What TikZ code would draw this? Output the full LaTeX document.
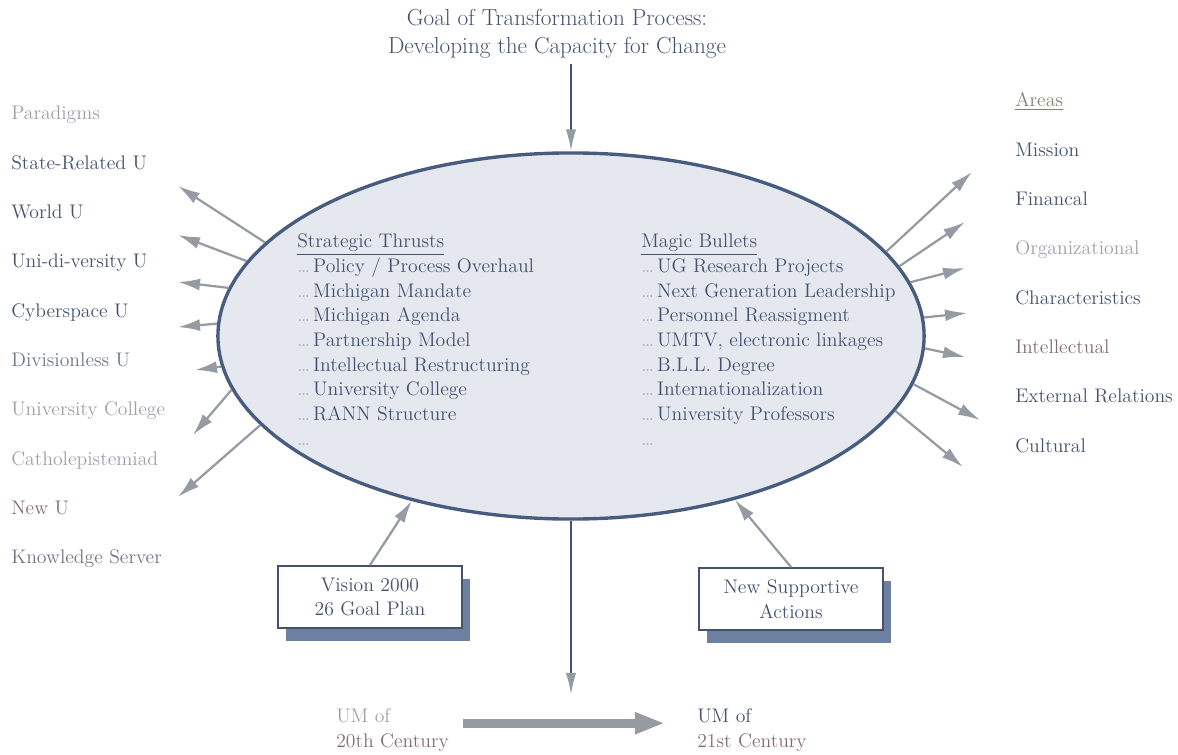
\documentclass[tikz,border=0pt]{standalone}
\usepackage{tikz}
\usetikzlibrary{shapes.geometric,arrows.meta,shadows}
\definecolor{ink}{RGB}{68,82,112}
\definecolor{faint}{RGB}{158,160,168}
\definecolor{mute}{RGB}{112,118,134}
\definecolor{rose}{RGB}{132,108,122}
\definecolor{areasc}{RGB}{122,134,112}
\definecolor{dotgray}{RGB}{170,175,185}
\definecolor{arrgray}{RGB}{150,155,163}
\definecolor{ellfill}{RGB}{229,233,239}
\definecolor{ellline}{RGB}{72,92,128}
\definecolor{boxshade}{RGB}{110,128,160}
\begin{document}
\begin{tikzpicture}[x=0.025cm,y=-0.025cm,
    lbl/.style={anchor=base west,inner sep=0pt,font=\fontsize{14}{17.5}\selectfont},
    item/.style={anchor=base west,inner sep=0pt,text=ink,font=\fontsize{14}{17.5}\selectfont},
    spoke/.style={draw=arrgray,line width=1.6pt,-{Latex[length=5.5mm,width=3mm]}},
    feed/.style={draw=ink,line width=1.6pt,-{Latex[length=5.5mm,width=2.6mm,color=arrgray]}},
    goalbox/.style={draw=ink,line width=1.4pt,fill=white,align=center,text=ink,
        minimum width=4.6cm,minimum height=1.55cm,font=\fontsize{14}{17.5}\selectfont,
        drop shadow={shadow xshift=0.2cm,shadow yshift=-0.32cm,fill=boxshade,opacity=1}},
    bigarrow/.style={draw=arrgray,line width=6.4pt,-{Triangle[length=0.75cm,width=0.5cm]}}]
    \useasboundingbox (0,0) rectangle (1178,755);
    % title and central ellipse
    \node[align=center,text=ink,font=\fontsize{16.5}{20}\selectfont] (title) at (557,34)
        {Goal of Transformation Process:\\Developing the Capacity for Change};
    \node[ellipse,draw=ellline,line width=2.4pt,fill=ellfill,inner sep=0pt,
        minimum width=17.65cm,minimum height=9.15cm] (ell) at (571,336) {};
    \draw[feed] (title.south -| ell.north) -- (ell.north);
    \coordinate (drop) at (571,695);
    \draw[feed] (ell.south) -- (drop);
    % strategic thrusts
    \node[item] (st0) at (297,248) {\underline{Strategic Thrusts}};
    \foreach \t [count=\i] in {Policy / Process Overhaul, Michigan Mandate, Michigan Agenda,
        Partnership Model, Intellectual Restructuring, University College, RANN Structure}
        \node[item] (st\i) at (297,{248+24.6*\i}) {\textcolor{dotgray}{\dots}\,\t};
    \node[item] (st8) at (297,445) {\textcolor{dotgray}{\dots}};
    % magic bullets
    \node[item] (mb0) at (641,248) {\underline{Magic Bullets}};
    \foreach \t [count=\i] in {UG Research Projects, Next Generation Leadership,
        Personnel Reassigment, {UMTV, electronic linkages}, B.L.L. Degree,
        Internationalization, University Professors}
        \node[item] (mb\i) at (641,{248+24.6*\i}) {\textcolor{dotgray}{\dots}\,\t};
    \node[item] (mb8) at (641,445) {\textcolor{dotgray}{\dots}};
    % paradigms
    \foreach \t/\c [count=\i] in {Paradigms/faint, State-Related U/ink, World U/ink,
        Uni-di-versity U/ink, Cyberspace U/ink, Divisionless U/mute,
        University College/faint, Catholepistemiad/faint, New U/rose, Knowledge Server/mute}
        \node[lbl,text=\c] (par\i) at (11,{120+49.3*(\i-1)}) {\t};
    % areas
    \foreach \t/\c [count=\i] in {\underline{Areas}/areasc, Mission/ink, Financal/ink,
        Organizational/faint, Characteristics/ink, Intellectual/rose,
        External Relations/ink, Cultural/ink}
        \node[lbl,text=\c] (ar\i) at (1015,{107+49.3*(\i-1)}) {\t};
    % spokes
    \foreach \a/\x/\y [count=\i] in {163.3/178/186, 167/178/235, 172.8/178/282,
        178.5/178/327, 185/195/370, 189.6/193/435, 196.2/178/497} {
        \coordinate (lt\i) at (\x,\y);
        \draw[spoke] (ell.\a) -- (lt\i);
    }
    \foreach \a/\x/\y [count=\i] in {15.8/972/172, 12.8/965/222, 9.1/965/268,
        3.7/967/313, 358.5/965/357, 352.9/980/420, 347.5/963/467} {
        \coordinate (rt\i) at (\x,\y);
        \draw[spoke] (ell.\a) -- (rt\i);
    }
    % plans feeding in
    \node[goalbox] (vision) at (370,597) {Vision 2000\\26 Goal Plan};
    \node[goalbox] (support) at (791,599) {New Supportive\\Actions};
    \draw[spoke] (vision.north) -- (ell.226.4);
    \draw[spoke] (support.north) -- (ell.315.8);
    % from 20th to 21st century
    \node[anchor=west,inner sep=0pt,align=left,font=\fontsize{14}{17.5}\selectfont] (um20) at (336,730)
        {\textcolor{faint}{UM of}\\\textcolor{rose}{20th Century}};
    \node[anchor=west,inner sep=0pt,align=left,font=\fontsize{14}{17.5}\selectfont] (um21) at (697,730)
        {\textcolor{ink}{UM of}\\\textcolor{rose}{21st Century}};
    \draw[bigarrow] ([yshift=0.17cm]um20.east) ++(0.35cm,0) -- ([yshift=0.17cm,xshift=-0.8cm]um21.west);
\end{tikzpicture}
\end{document}
